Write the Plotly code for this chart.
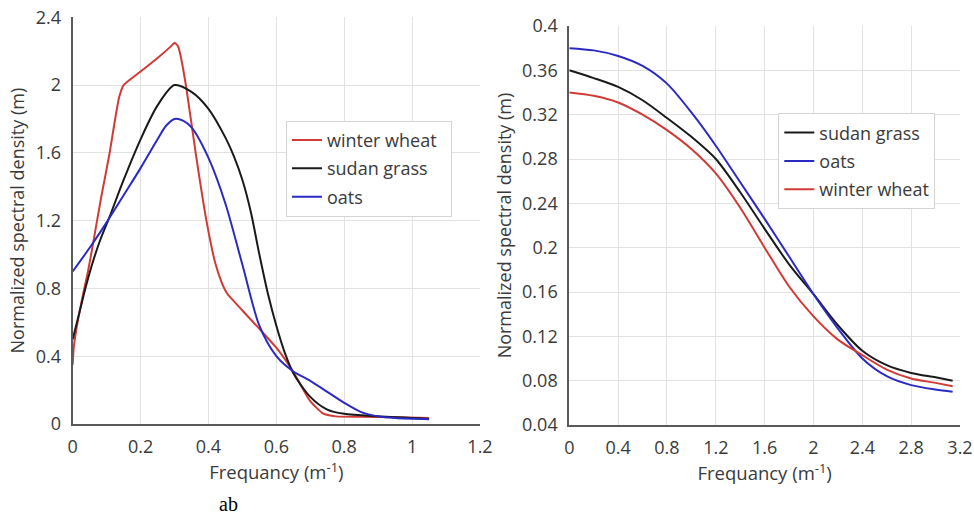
import plotly.graph_objects as go

# ---------------- data: left panel ----------------
ww_left_freq = [0, 0.003, 0.01, 0.02, 0.031, 0.045, 0.056, 0.085, 0.108, 0.125, 0.137, 0.15, 0.2, 0.25, 0.29, 0.3,
                0.31, 0.317, 0.335, 0.363, 0.394, 0.42, 0.44, 0.455, 0.5, 0.546, 0.6, 0.649, 0.698, 0.737, 0.776,
                0.85, 0.95, 1.05]
ww_left_psd = [0.35, 0.45, 0.55, 0.66, 0.77, 0.9, 1.02, 1.35, 1.59, 1.8, 1.93, 2.0, 2.08, 2.16, 2.23, 2.25,
               2.23, 2.18, 1.98, 1.59, 1.2, 0.95, 0.83, 0.77, 0.67, 0.57, 0.45, 0.31, 0.14, 0.063, 0.045,
               0.043, 0.04, 0.035]

sg_left_freq = [0, 0.01, 0.02, 0.04, 0.06, 0.08, 0.11, 0.15, 0.2, 0.25, 0.3, 0.35, 0.4, 0.45, 0.475, 0.5,
                0.525, 0.55, 0.575, 0.6, 0.625, 0.65, 0.7, 0.75, 0.8, 0.9, 1.05]
sg_left_psd = [0.5, 0.58, 0.66, 0.82, 0.96, 1.08, 1.23, 1.44, 1.68, 1.88, 2.0, 1.96, 1.86, 1.69, 1.58, 1.44,
               1.25, 1.0, 0.77, 0.58, 0.42, 0.30, 0.16, 0.085, 0.06, 0.045, 0.03]

oats_left_freq = [0, 0.05, 0.1, 0.15, 0.2, 0.25, 0.275, 0.3, 0.325, 0.35, 0.4, 0.45, 0.5, 0.55, 0.6, 0.65,
                  0.7, 0.75, 0.8, 0.85, 0.9, 0.95, 1.05]
oats_left_psd = [0.9, 1.04, 1.19, 1.35, 1.51, 1.68, 1.76, 1.8, 1.79, 1.75, 1.57, 1.30, 0.94, 0.58, 0.40, 0.31,
                 0.255, 0.19, 0.125, 0.07, 0.045, 0.035, 0.028]

# ---------------- data: right panel ----------------
right_freq = [0, 0.2, 0.4, 0.6, 0.8, 1.0, 1.2, 1.4, 1.6, 1.8, 2.0, 2.2, 2.4, 2.6, 2.8, 3.0, 3.14]
sg_right_psd = [0.360, 0.353, 0.345, 0.333, 0.317, 0.300, 0.280, 0.250, 0.217, 0.185, 0.158, 0.130, 0.107,
                0.094, 0.087, 0.083, 0.080]
oats_right_psd = [0.380, 0.378, 0.373, 0.364, 0.348, 0.322, 0.292, 0.259, 0.226, 0.192, 0.158, 0.127, 0.100,
                  0.084, 0.076, 0.072, 0.070]
ww_right_psd = [0.340, 0.337, 0.331, 0.320, 0.306, 0.289, 0.267, 0.236, 0.200, 0.165, 0.138, 0.117, 0.103,
                0.090, 0.082, 0.078, 0.075]

# tick values
left_xticks = [0, 0.2, 0.4, 0.6, 0.8, 1, 1.2]
left_yticks = [0, 0.4, 0.8, 1.2, 1.6, 2, 2.4]
right_xticks = [0, 0.4, 0.8, 1.2, 1.6, 2, 2.4, 2.8, 3.2]
right_yticks = [0.04, 0.08, 0.12, 0.16, 0.2, 0.24, 0.28, 0.32, 0.36, 0.4]

RED = "#d23a35"
BLACK = "#1a1a1a"
BLUE = "#2b2bc4"
FONT = "Open Sans"

fig = go.Figure()

def add(x, y, name, color, xa, ya, leg, smoothing=0.8, label=None):
    fig.add_trace(go.Scatter(
        x=x, y=y, name=label or name, mode="lines",
        line=dict(color=color, width=2, shape="spline", smoothing=smoothing),
        xaxis=xa, yaxis=ya, legend=leg, legendgroup=leg + name,
    ))

add(ww_left_freq, ww_left_psd, "winter wheat", RED, "x", "y", "legend", 0.5,
    label="winter wheat\u00a0\u00a0")
add(sg_left_freq, sg_left_psd, "sudan grass", BLACK, "x", "y", "legend")
add(oats_left_freq, oats_left_psd, "oats", BLUE, "x", "y", "legend")

add(right_freq, sg_right_psd, "sudan grass", BLACK, "x2", "y2", "legend2")
add(right_freq, oats_right_psd, "oats", BLUE, "x2", "y2", "legend2")
add(right_freq, ww_right_psd, "winter wheat", RED, "x2", "y2", "legend2")

axis_common = dict(
    showgrid=True, gridcolor="#e2e2e2", gridwidth=1,
    showline=True, linecolor="#5a5a5a", linewidth=2,
    zeroline=False, ticks="", automargin=False,
    tickfont=dict(family=FONT, size=18, color="#3a3a3a"),
)
xtitle_font = dict(family=FONT, size=18.5, color="#3a3a3a")
ytitle_font = dict(family=FONT, size=18, color="#3a3a3a")

W, H = 974, 515
fig.update_layout(
    width=W, height=H,
    margin=dict(l=0, r=0, t=0, b=0),
    paper_bgcolor="white", plot_bgcolor="white",
    xaxis=dict(domain=[72.7 / W, 480 / W], range=[0, 1.2], tickvals=left_xticks,
               title=dict(text="Frequancy (m<sup>-1</sup>)", font=xtitle_font, standoff=8),
               ticklabelstandoff=5, anchor="y", **axis_common),
    yaxis=dict(domain=[1 - 424 / H, 1 - 17.3 / H], range=[0, 2.4], tickvals=left_yticks,
               title=dict(text="Normalized spectral density (m)", font=ytitle_font, standoff=6),
               ticklabelstandoff=6, anchor="x", **axis_common),
    xaxis2=dict(domain=[569.3 / W, 960 / W], range=[0, 3.2], tickvals=right_xticks,
                title=dict(text="Frequancy (m<sup>-1</sup>)", font=xtitle_font, standoff=8),
                ticklabelstandoff=5, anchor="y2", **axis_common),
    yaxis2=dict(domain=[1 - 425 / H, 1 - 26 / H], range=[0.04, 0.4], tickvals=right_yticks,
                title=dict(text="Normalized spectral density (m)", font=ytitle_font, standoff=6),
                ticklabelstandoff=6, anchor="x2", **axis_common),
    legend=dict(x=286 / W, y=1 - 120.7 / H, xanchor="left", yanchor="top",
                bgcolor="white", bordercolor="#d4d4d4", borderwidth=1,
                font=dict(family=FONT, size=18, color="#3a3a3a"),
                traceorder="grouped", tracegroupgap=2),
    legend2=dict(x=778.3 / W, y=1 - 113.3 / H, xanchor="left", yanchor="top",
                 bgcolor="white", bordercolor="#d4d4d4", borderwidth=1,
                 font=dict(family=FONT, size=18, color="#3a3a3a"),
                 traceorder="grouped", tracegroupgap=2),
    annotations=[dict(text="ab", x=228 / W, y=1 - 504 / H, xref="paper", yref="paper",
                      xanchor="center", yanchor="middle", showarrow=False,
                      font=dict(family="Liberation Serif", size=20, color="black"))],
)

fig.write_html("out.html", config={"displayModeBar": False},
               post_script="document.body.style.margin='0px';")
